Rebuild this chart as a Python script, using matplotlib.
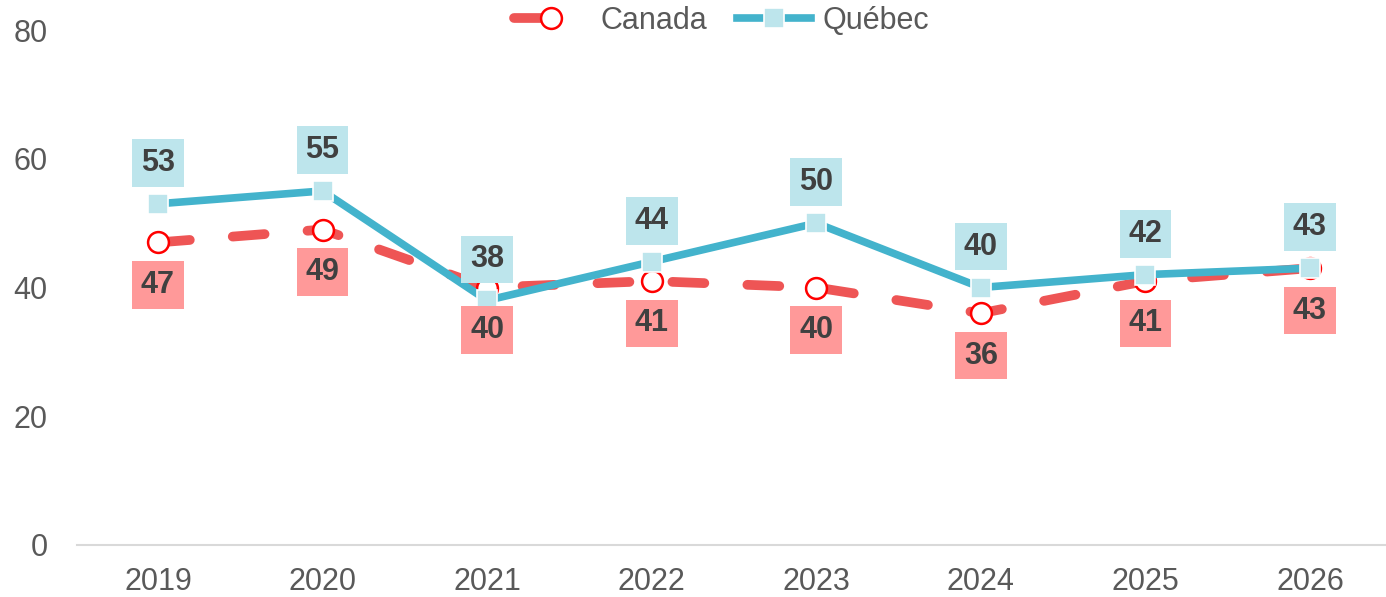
import matplotlib
matplotlib.use("Agg")
import matplotlib.pyplot as plt

years = ["2019", "2020", "2021", "2022", "2023", "2024", "2025", "2026"]
canada = [47, 49, 40, 41, 40, 36, 41, 43]
quebec = [53, 55, 38, 44, 50, 40, 42, 43]
yticks = [0, 20, 40, 60, 80]

plt.rcParams['font.family'] = ['Liberation Sans', 'DejaVu Sans']
plt.rcParams['lines.scale_dashes'] = False

fig = plt.figure(figsize=(13.86, 5.97), dpi=100)
W, H = 1386, 597
ax = fig.add_axes([77 / W, (H - 545) / H, (1386 - 77) / W, (545 - 30) / H])

x = list(range(len(years)))
red_line = "#EE5555"
blue_line = "#43B3CC"
red_box = "#FF9999"
blue_box = "#BDE5EC"
txt = "#404040"

lc, = ax.plot(x, canada, color=red_line, lw=7, dashes=(23, 31),
              dash_capstyle='round', solid_capstyle='round',
              marker='o', markersize=15, markerfacecolor='white',
              markeredgecolor='#FF0000', markeredgewidth=1.8, zorder=3, label="Canada")
lq, = ax.plot(x, quebec, color=blue_line, lw=5.5, solid_joinstyle='miter',
              marker='s', markersize=14, markerfacecolor=blue_box,
              markeredgecolor='white', markeredgewidth=1.2, zorder=4, label="Québec")

for xi, v in zip(x, canada):
    ax.annotate(str(v), (xi, v), xytext=(0, -30.5), textcoords='offset points',
                ha='center', va='center', fontsize=22, fontweight='bold', color=txt,
                bbox=dict(boxstyle='square,pad=0.29', fc=red_box, ec='none'), zorder=5)
for xi, v in zip(x, quebec):
    ax.annotate(str(v), (xi, v), xytext=(0, 29.5), textcoords='offset points',
                ha='center', va='center', fontsize=22, fontweight='bold', color=txt,
                bbox=dict(boxstyle='square,pad=0.29', fc=blue_box, ec='none'), zorder=6)

ax.set_xlim(-0.492, 7.462)
ax.set_ylim(0, 80)
ax.set_yticks(yticks)
ax.set_xticks(x)
ax.set_xticklabels(years)
ax.tick_params(axis='both', length=0, labelsize=22, labelcolor='#595959')
ax.tick_params(axis='x', pad=16)
ax.tick_params(axis='y', pad=21)
for s in ['top', 'right', 'left']:
    ax.spines[s].set_visible(False)
ax.spines['bottom'].set_color('#D9D9D9')
ax.spines['bottom'].set_linewidth(1.5)

leg = fig.legend(handles=[lc, lq], loc='center', bbox_to_anchor=(722 / W, 1 - 21 / H),
                 ncol=2, frameon=False, fontsize=22, handlelength=2.4,
                 columnspacing=1.0, handletextpad=0.4, labelcolor='#595959')

fig.savefig("out.png", dpi=100)
